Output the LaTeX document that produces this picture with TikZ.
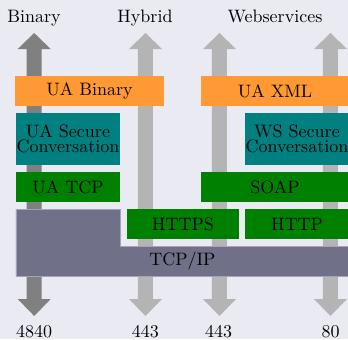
\documentclass[tikz,border=0pt]{standalone}

\definecolor{canvas}{HTML}{EAEAF2}
\definecolor{portdark}{HTML}{808080}
\definecolor{portlight}{HTML}{B4B4B4}
\definecolor{encoding}{HTML}{FF9933}
\definecolor{security}{HTML}{008080}
\definecolor{transport}{HTML}{008000}
\definecolor{netlayer}{HTML}{707088}
\definecolor{netedge}{HTML}{A4A4B8}

\begin{document}
\begin{tikzpicture}[x=0.5556pt, y=-0.5556pt,
  layerbox/.style 2 args={inner sep=0pt, outer sep=0pt, align=center,
    minimum width={#1*0.5556pt}, minimum height={#2*0.5556pt},
    font=\fontsize{10}{8.2}\selectfont},
  caption/.style={anchor=base, inner sep=0pt}]

\useasboundingbox[fill=canvas] (0,0) rectangle (348,339);

% double-headed port arrows behind the stack
\foreach \cx/\col in {34.2/portdark, 145.5/portlight, 219.5/portlight, 330.5/portlight}{
  \fill[\col] (\cx,33) -- ({\cx+16.5},49) -- ({\cx+7.5},49) -- ({\cx+7.5},299)
    -- ({\cx+16.5},299) -- (\cx,316) -- ({\cx-16.5},299) -- ({\cx-7.5},299)
    -- ({\cx-7.5},49) -- ({\cx-16.5},49) -- cycle;
}

% column titles
\node[caption] (tbin) at (34,22) {Binary};
\node[caption] (thyb) at (145,22) {Hybrid};
\node[caption] (tws)  at (275,22) {Webservices};

% port numbers
\node[caption] (p1) at (34.2,337) {4840};
\node[caption] (p2) at (145.4,337) {443};
\node[caption] (p3) at (218.7,337) {443};
\node[caption] (p4) at (330.5,337) {80};

% encoding layer
\node[layerbox={149}{30}, fill=encoding] (uabinary) at (89.5,91) {UA Binary};
\node[layerbox={148}{30}, fill=encoding] (uaxml) at (275,91) {UA XML};

% security layer
\node[layerbox={104}{52}, fill=security] (uasc) at (68,139) {UA Secure\\Conversation};
\node[layerbox={104}{52}, fill=security] (wssc) at (297,139) {WS Secure\\Conversation};

% transport layer
\node[layerbox={104}{30}, fill=transport] (uatcp) at (68,187) {UA TCP};
\node[layerbox={148}{30}, fill=transport] (soap) at (275,187) {SOAP};
\node[layerbox={112}{30}, fill=transport] (https) at (183,224) {HTTPS};
\node[layerbox={104}{30}, fill=transport] (http) at (297,224) {HTTP};

% network layer (L-shaped)
\filldraw[fill=netlayer, draw=netedge, line width=0.4pt]
  (16,209) -- (120,209) -- (120,246) -- (349,246) -- (349,276) -- (16,276) -- cycle;
\node[inner sep=0pt] (tcpip) at (182.5,261) {TCP/IP};

\end{tikzpicture}
\end{document}
